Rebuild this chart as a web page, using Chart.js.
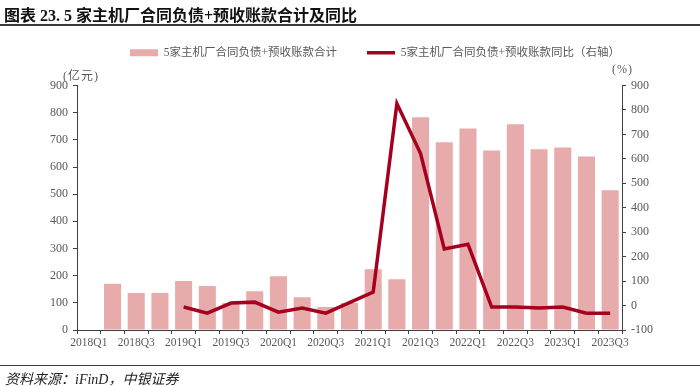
<!DOCTYPE html>
<html>
<head>
<meta charset="utf-8">
<script src="https://cdn.jsdelivr.net/npm/chart.js@4"></script>
<style>
  html, body { margin: 0; padding: 0; background: #fff; }
  #wrap { position: relative; width: 700px; height: 386px; overflow: hidden; }
  #teh_canvas { position: absolute; left: 0; top: 0; }
  .txt { position: absolute; white-space: nowrap; }
  #title { left: 4px; top: 2px; font: bold 16px "Liberation Serif", "Noto Sans CJK SC", serif; color: #111; }
  #titleRule { position: absolute; left: 0; top: 24px; width: 700px; height: 2px; background: #3a3a3a; }
  #footRule { position: absolute; left: 0; top: 365px; width: 700px; height: 1px; background: #3a3a3a; }
  #foot { left: 5px; top: 368px; font: italic 14px "Liberation Serif", "Noto Sans CJK SC", serif; color: #222; }
  #unitL { left: 63px; top: 66px; font: 12px "Liberation Serif", "Noto Sans CJK SC", serif; color: #595959; letter-spacing: 1px; }
  #unitR { left: 612px; top: 62px; font: 12px "Liberation Serif", "Noto Sans CJK SC", serif; color: #595959; letter-spacing: 1px; }
</style>
</head>
<body>
<div id="wrap">
  <canvas id="teh_canvas" width="700" height="386"></canvas>
  <div id="title" class="txt">图表 23. 5 家主机厂合同负债+预收账款合计及同比</div>
  <div id="titleRule"></div>
  <div id="unitL" class="txt">(亿元)</div>
  <div id="unitR" class="txt">(%)</div>
  <div id="footRule"></div>
  <div id="foot" class="txt">资料来源：iFinD，中银证券</div>
</div>
<script>
var quarters = ['2018Q1','2018Q2','2018Q3','2018Q4','2019Q1','2019Q2','2019Q3','2019Q4',
    '2020Q1','2020Q2','2020Q3','2020Q4','2021Q1','2021Q2','2021Q3','2021Q4',
    '2022Q1','2022Q2','2022Q3','2022Q4','2023Q1','2023Q2','2023Q3'];

// 合同负债+预收账款合计（亿元）
var totalVals = [null, 170, 136, 136, 180, 162, 99, 143,
    198, 121, 85, 99, 224, 187, 783, 691,
    742, 661, 757, 665, 672, 639, 514];

// 同比（%，右轴）
var yoyVals = [null, null, null, null, -6, -31, 10, 14,
    -27, -10, -31, 12, 55, 826, 622, 231,
    251, -6, -6, -10, -6, -31, -31];

var barColor = '#E8ABAB';
var lineColor = '#A5001E';
var tickColor = '#595959';
var axisColor = '#404040';
var tickFont = { family: '"Liberation Serif", serif', size: 12 };

// push chart area down below the legend, and nudge the legend to the right
var legendTweak = {
    id: 'legendTweak',
    beforeInit: function(chart) {
        var lg = chart.legend;
        var fit = lg.fit;
        lg.fit = function() {
            fit.bind(lg)();
            this.height += 17;
        };
        var draw = lg.draw;
        lg.draw = function() {
            this.left += 25; this.right += 25;
            draw.call(lg);
            this.left -= 25; this.right -= 25;
        };
    }
};

function initChart() {
    var ctx = document.getElementById('teh_canvas');
    new Chart(ctx, {
        data: {
            labels: quarters,
            datasets: [{
                type: 'line',
                label: '5家主机厂合同负债+预收账款同比（右轴）',
                data: yoyVals,
                yAxisID: 'yR',
                borderColor: lineColor,
                backgroundColor: lineColor,
                borderWidth: 3.5,
                pointRadius: 0,
                pointStyle: 'line',
                tension: 0,
                order: 0
            }, {
                type: 'bar',
                label: '5家主机厂合同负债+预收账款合计',
                data: totalVals,
                yAxisID: 'yL',
                backgroundColor: barColor,
                borderWidth: 0,
                pointStyle: 'rect',
                categoryPercentage: 1,
                barPercentage: 0.72,
                order: 1
            }]
        },
        options: {
            responsive: false,
            animation: false,
            layout: { padding: { top: 17, left: 0, right: 0, bottom: 0 } },
            plugins: {
                legend: {
                    reverse: true,
                    labels: {
                        usePointStyle: true,
                        pointStyleWidth: 28,
                        boxHeight: 7,
                        padding: 30,
                        color: tickColor,
                        font: { family: '"Liberation Serif", "Noto Sans CJK SC", serif', size: 11.5 }
                    }
                },
                tooltip: { enabled: false }
            },
            scales: {
                x: {
                    offset: true,
                    grid: { display: true, offset: true, drawOnChartArea: false, tickLength: 4, color: axisColor },
                    border: { display: true, color: axisColor, width: 1 },
                    ticks: {
                        autoSkip: false,
                        maxRotation: 0,
                        color: tickColor,
                        font: { family: '"Liberation Serif", serif', size: 11.5 },
                        padding: 2,
                        callback: function(v, i) { return i % 2 === 0 ? quarters[i] : ''; }
                    },
                    afterFit: function(scale) { scale.height = 56; }
                },
                yL: {
                    position: 'left',
                    min: 0, max: 900,
                    grid: { display: true, drawOnChartArea: false, tickLength: 4, color: axisColor },
                    border: { display: true, color: axisColor, width: 1 },
                    ticks: { stepSize: 100, color: tickColor, font: tickFont, padding: 5 },
                    afterFit: function(scale) { scale.width = 77; }
                },
                yR: {
                    position: 'right',
                    min: -100, max: 900,
                    grid: { display: true, drawOnChartArea: false, tickLength: 4, color: axisColor },
                    border: { display: true, color: axisColor, width: 1 },
                    ticks: { stepSize: 100, color: tickColor, font: tickFont, padding: 5 },
                    afterFit: function(scale) { scale.width = 78; }
                }
            }
        },
        plugins: [legendTweak]
    });
}

initChart();
</script>
</body>
</html>
